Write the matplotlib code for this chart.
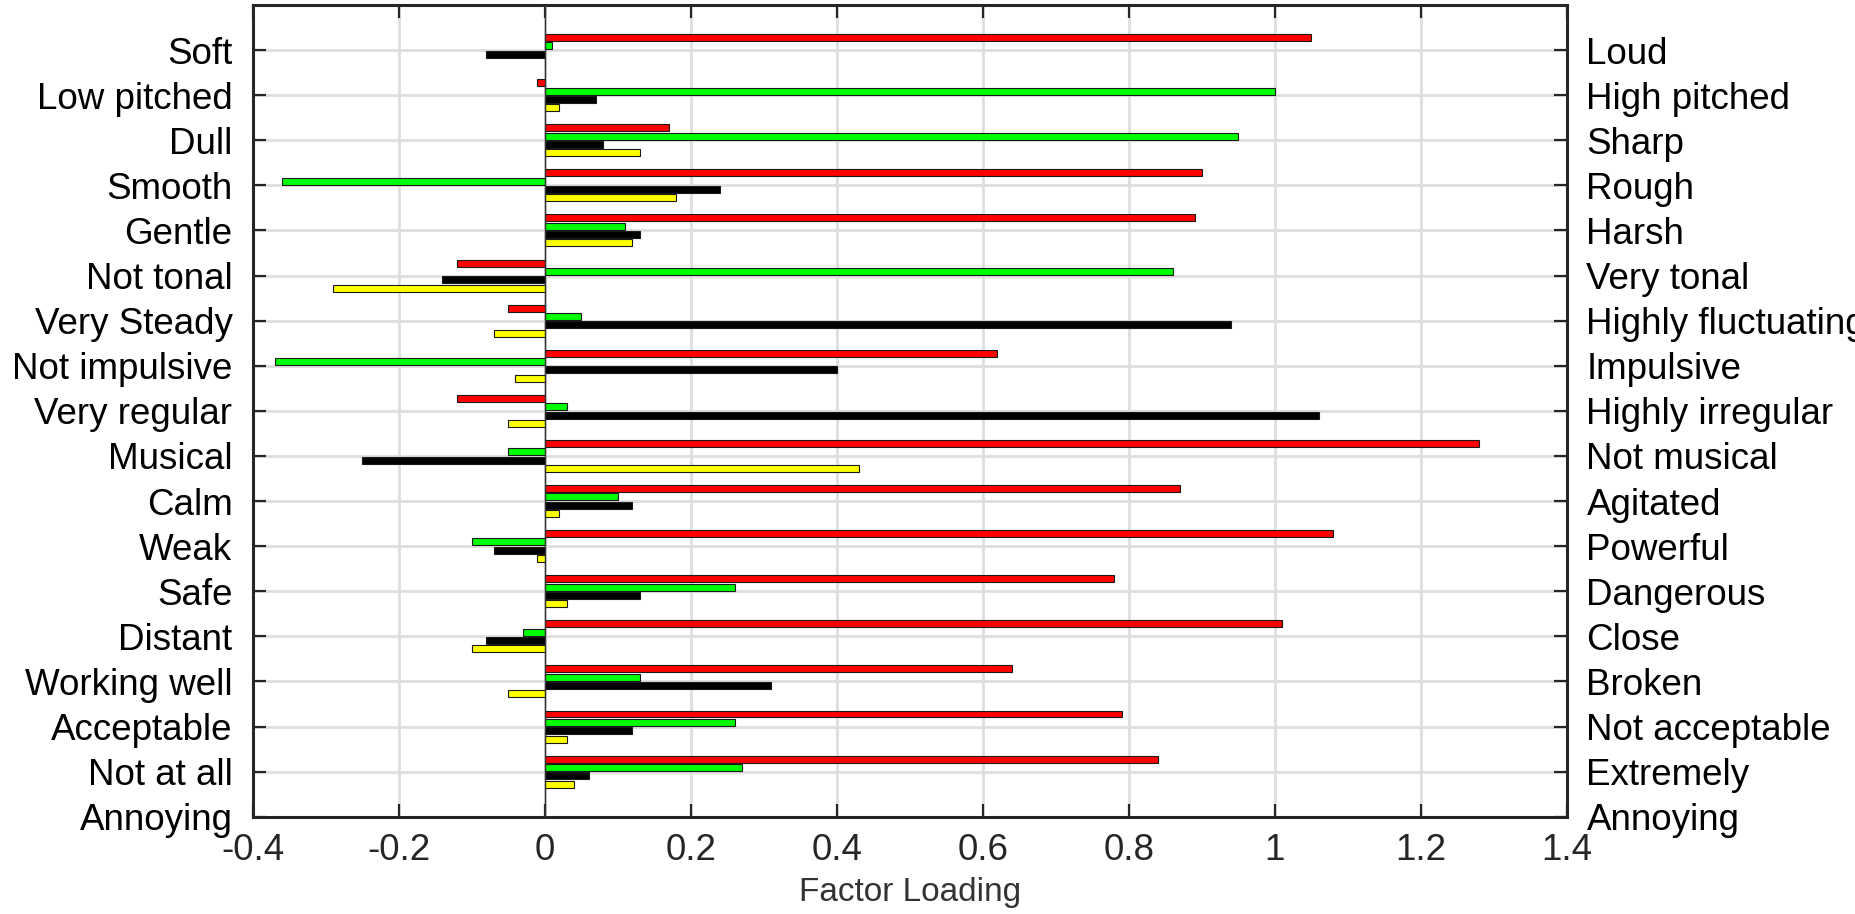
import matplotlib
matplotlib.use("Agg")
import matplotlib.pyplot as plt
import numpy as np

plt.rcParams['font.family'] = ['Liberation Sans', 'DejaVu Sans']

# labels de cada lado do eixo (ultima linha "Annoying" fica na borda de baixo)
left_labels = ["Soft", "Low pitched", "Dull", "Smooth", "Gentle", "Not tonal",
               "Very Steady", "Not impulsive", "Very regular", "Musical", "Calm",
               "Weak", "Safe", "Distant", "Working well", "Acceptable",
               "Not at all", "Annoying"]
right_labels = ["Loud", "High pitched", "Sharp", "Rough", "Harsh", "Very tonal",
                "Highly fluctuating", "Impulsive", "Highly irregular", "Not musical",
                "Agitated", "Powerful", "Dangerous", "Close", "Broken",
                "Not acceptable", "Extremely", "Annoying"]

# cargas fatoriais (4 fatores)
red = [1.05, -0.01, 0.17, 0.90, 0.89, -0.12, -0.05, 0.62, -0.12, 1.28, 0.87,
       1.08, 0.78, 1.01, 0.64, 0.79, 0.84]
green = [0.01, 1.00, 0.95, -0.36, 0.11, 0.86, 0.05, -0.37, 0.03, -0.05, 0.10,
         -0.10, 0.26, -0.03, 0.13, 0.26, 0.27]
black = [-0.08, 0.07, 0.08, 0.24, 0.13, -0.14, 0.94, 0.40, 1.06, -0.25, 0.12,
         -0.07, 0.13, -0.08, 0.31, 0.12, 0.06]
yellow = [0.00, 0.02, 0.13, 0.18, 0.12, -0.29, -0.07, -0.04, -0.05, 0.43, 0.02,
          -0.01, 0.03, -0.10, -0.05, 0.03, 0.04]

series = [red, green, black, yellow]
colors = ["#ff0000", "#00ff00", "#000000", "#ffff00"]

W, H = 1855, 914
fig = plt.figure(figsize=(W / 100, H / 100), dpi=100)
ax = fig.add_axes([252.6 / W, 1 - 816.7 / H, (1567 - 252.6) / W, (816.7 - 5) / H])

pos = np.arange(1, len(red) + 1)
step = 0.185
for k, (vals, c) in enumerate(zip(series, colors)):
    ax.barh(pos + (k - 1.5) * step, vals, height=0.155, color=c,
            edgecolor="#1a1a1a", linewidth=0.8, zorder=3)

ax.axvline(0, color="#333333", lw=1.0, zorder=4)

ax.set_xlim(-0.4, 1.4)
ax.set_ylim(18, 0)
ax.set_xticks(np.arange(-0.4, 1.41, 0.2))
ax.set_xticklabels(["-0.4", "-0.2", "0", "0.2", "0.4", "0.6", "0.8", "1", "1.2", "1.4"])
ticks = np.arange(1, 19)
ax.set_yticks(ticks)
ax.set_yticklabels(left_labels)

ax.grid(True, color="#dedede", lw=2, zorder=0)
ax.set_axisbelow(True)

for s in ax.spines.values():
    s.set_color("#262626")
    s.set_linewidth(2.2)

ax.tick_params(axis="x", direction="in", top=True, length=9.5, width=1.6,
               color="#262626", labelsize=26.5, labelcolor="#262626", pad=12)
ax.tick_params(axis="y", direction="in", length=9.5, width=1.6,
               color="#262626", labelsize=26.5, labelcolor="black", pad=14.5)

ax2 = ax.twinx()
ax2.set_ylim(18, 0)
ax2.set_yticks(ticks)
ax2.set_yticklabels(right_labels)
ax2.tick_params(axis="y", direction="in", length=9.5, width=1.6,
                color="#262626", labelsize=26.5, labelcolor="black", pad=14)
for s in ax2.spines.values():
    s.set_visible(False)

ax.set_xlabel("Factor Loading", fontsize=24, color="#333333", labelpad=6)

fig.savefig("out.png", dpi=100)
